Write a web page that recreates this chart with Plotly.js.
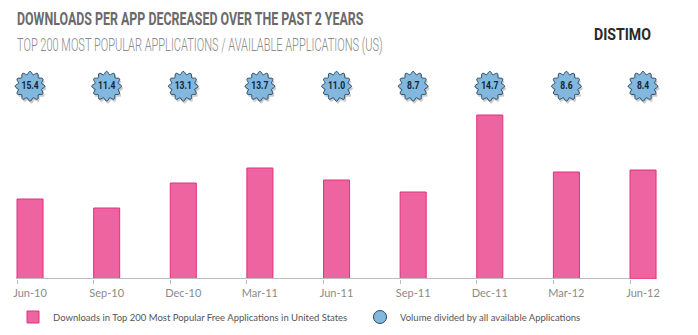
<!DOCTYPE html>
<html><head><meta charset="utf-8">
<script src="https://cdn.plot.ly/plotly-3.0.1.min.js"></script>
<style>html,body{margin:0;padding:0;background:#fff;}#chart{width:698px;height:335px;}</style>
</head><body><div id="chart"></div>
<script>
// ---- data ----
const categories = ['Jun-10','Sep-10','Dec-10','Mar-11','Jun-11','Sep-11','Dec-11','Mar-12','Jun-12'];
// downloads of the top 200 free apps (relative units, the source has no y-axis)
const downloads = [80, 71, 96, 111, 99, 87, 164, 107, 109];
// volume divided by all available applications (badge values)
const volumePerApp = [15.4, 11.4, 13.1, 13.7, 11.0, 8.7, 14.7, 8.6, 8.4];
const seriesNames = ['Downloads in Top 200 Most Popular Free Applications in United States',
                     'Volume divided by all available Applications'];
const chartTitle = 'DOWNLOADS PER APP DECREASED OVER THE PAST 2 YEARS';
const chartSubtitle = 'TOP 200 MOST POPULAR APPLICATIONS / AVAILABLE APPLICATIONS (US)';
const brand = 'DISTIMO';

// ---- style ----
const BAR_W = 0.34;            // bar width in category units (bar starts at tick)
const BADGE_Y = 0.88;          // badge row height on hidden y2 axis
const idx = categories.map((c, i) => i);
const centers = idx.map(i => i + BAR_W / 2);

function scallop(r, amp, n, dx, dy) {
  let d = '';
  const steps = 120;
  for (let k = 0; k <= steps; k++) {
    const t = 2 * Math.PI * k / steps;
    const rr = r + amp * Math.cos(n * t);
    const x = rr * Math.cos(t) + dx, y = rr * Math.sin(t) + dy;
    d += (k ? 'L' : 'M') + x.toFixed(2) + ',' + y.toFixed(2);
  }
  return d + 'Z';
}

const shapes = [];
shapes.push({type:'line', xref:'x', yref:'y', x0: idx[0], x1: idx[idx.length-1], y0:0, y1:0,
             line:{color:'#bdbdbd', width:2}, layer:'above'});
centers.forEach(cx => {
  shapes.push({type:'path', xref:'x', yref:'y2', xsizemode:'pixel', ysizemode:'pixel',
    xanchor: cx, yanchor: BADGE_Y, path: scallop(13.6, 1.5, 12, 1.3, -2.3),
    fillcolor:'rgba(0,0,0,0.2)', line:{width:0}, layer:'below'});
  shapes.push({type:'path', xref:'x', yref:'y2', xsizemode:'pixel', ysizemode:'pixel',
    xanchor: cx, yanchor: BADGE_Y, path: scallop(13.4, 1.5, 12, 0, 0),
    fillcolor:'#82b8de', line:{color:'#2a4660', width:1}, layer:'below'});
});

const data = [
  {type:'bar', x: idx, y: downloads, name: seriesNames[0], width: BAR_W, offset: 0, legend:'legend',
   marker:{color:'#ee64a0', line:{color:'#e0307c', width:1}}, hoverinfo:'skip'},
  {type:'scatter', mode:'text', x: centers, y: centers.map(() => BADGE_Y), yaxis:'y2',
   text: volumePerApp.map(v => v.toFixed(1)), showlegend:false, cliponaxis:false,
   textfont:{family:'Roboto', size:11, color:'#14243a', weight:'bold'}, hoverinfo:'skip'},
  {type:'scatter', mode:'markers', x:[null], y:[null], yaxis:'y2', name: seriesNames[1], legend:'legend2',
   marker:{symbol:'circle', size:13, color:'#82b8de', line:{color:'#2a4660', width:1}}}
];

const legendBase = {orientation:'h', xref:'container', yref:'container', y:18/335,
                    xanchor:'left', yanchor:'middle', itemwidth:30, bgcolor:'rgba(0,0,0,0)',
                    font:{family:'Lato', size:9.5, color:'#555'}};

const layout = {
  width: 698, height: 335,
  margin: {l:0, r:0, t:60, b:56},
  paper_bgcolor:'#fff', plot_bgcolor:'#fff',
  showlegend: true,
  bargap: 0,
  title: {text: chartTitle, xref:'container', yref:'container', x: 17/698, y: 1 - 18/335,
          xanchor:'left', yanchor:'middle',
          font:{family:'Roboto', size:19, color:'#6a6a6a', weight:'bold'}},
  xaxis: {type:'linear', range:[-17/76.625, (698-17)/76.625], tickvals: idx, ticktext: categories,
          showgrid:false, zeroline:false, showline:false,
          ticks:'outside', ticklen:4, tickcolor:'#bdbdbd', tickwidth:1,
          ticklabelshift: 13, ticklabelstandoff: 0,
          tickfont:{family:'Lato', size:11, color:'#8a8a8a'}, fixedrange:true},
  yaxis: {range:[0, 219], visible:false, fixedrange:true},
  yaxis2: {range:[0, 1], overlaying:'y', visible:false, fixedrange:true},
  legend: Object.assign({}, legendBase, {x: 13/698}),
  legend2: Object.assign({}, legendBase, {x: 360/698}),
  shapes: shapes,
  annotations: [
    {text: chartSubtitle, xref:'paper', yref:'paper', x: 15/698, y: 1 + (60-44)/219,
     xanchor:'left', yanchor:'middle', align:'left', showarrow:false,
     font:{family:'Roboto', size:16, color:'#8a8a8a', weight:300}},
    {text: brand, xref:'paper', yref:'paper', x: 592/698, y: 1 + (60-35)/219,
     xanchor:'left', yanchor:'middle', align:'left', showarrow:false,
     font:{family:'Roboto', size:15, color:'#2a2a2a', weight:'bold'}}
  ]
};

// squeeze condensed-style text horizontally (keeps left edge), optional vertical stretch around centre
function squeeze(el, targetW, sy) {
  if (!el) return;
  const bb = el.getBBox();
  if (!bb.width) return;
  const sx = targetW / bb.width;
  sy = sy || 1;
  const cy = bb.y + bb.height / 2;
  const prev = el.getAttribute('transform') || '';
  el.setAttribute('transform', prev + ' translate(' + (bb.x * (1 - sx)) + ' ' + (cy * (1 - sy)) + ') scale(' + sx + ' ' + sy + ')');
}
function squeezeCentre(el, ratio) {
  if (!el) return;
  const bb = el.getBBox();
  const cx = bb.x + bb.width / 2;
  const prev = el.getAttribute('transform') || '';
  el.setAttribute('transform', prev + ' translate(' + (cx * (1 - ratio)) + ' 0) scale(' + ratio + ' 1)');
}

Plotly.newPlot('chart', data, layout, {staticPlot:true}).then(gd => {
  squeeze(gd.querySelector('.gtitle'), 347, 1.0);
  const ann = gd.querySelectorAll('.annotation-text');
  squeeze(ann[0], 366, 1.2);
  squeeze(ann[1], 57, 1.05);
  gd.querySelectorAll('.textpoint text').forEach(t => squeezeCentre(t, 0.78));
});
</script></body></html>
